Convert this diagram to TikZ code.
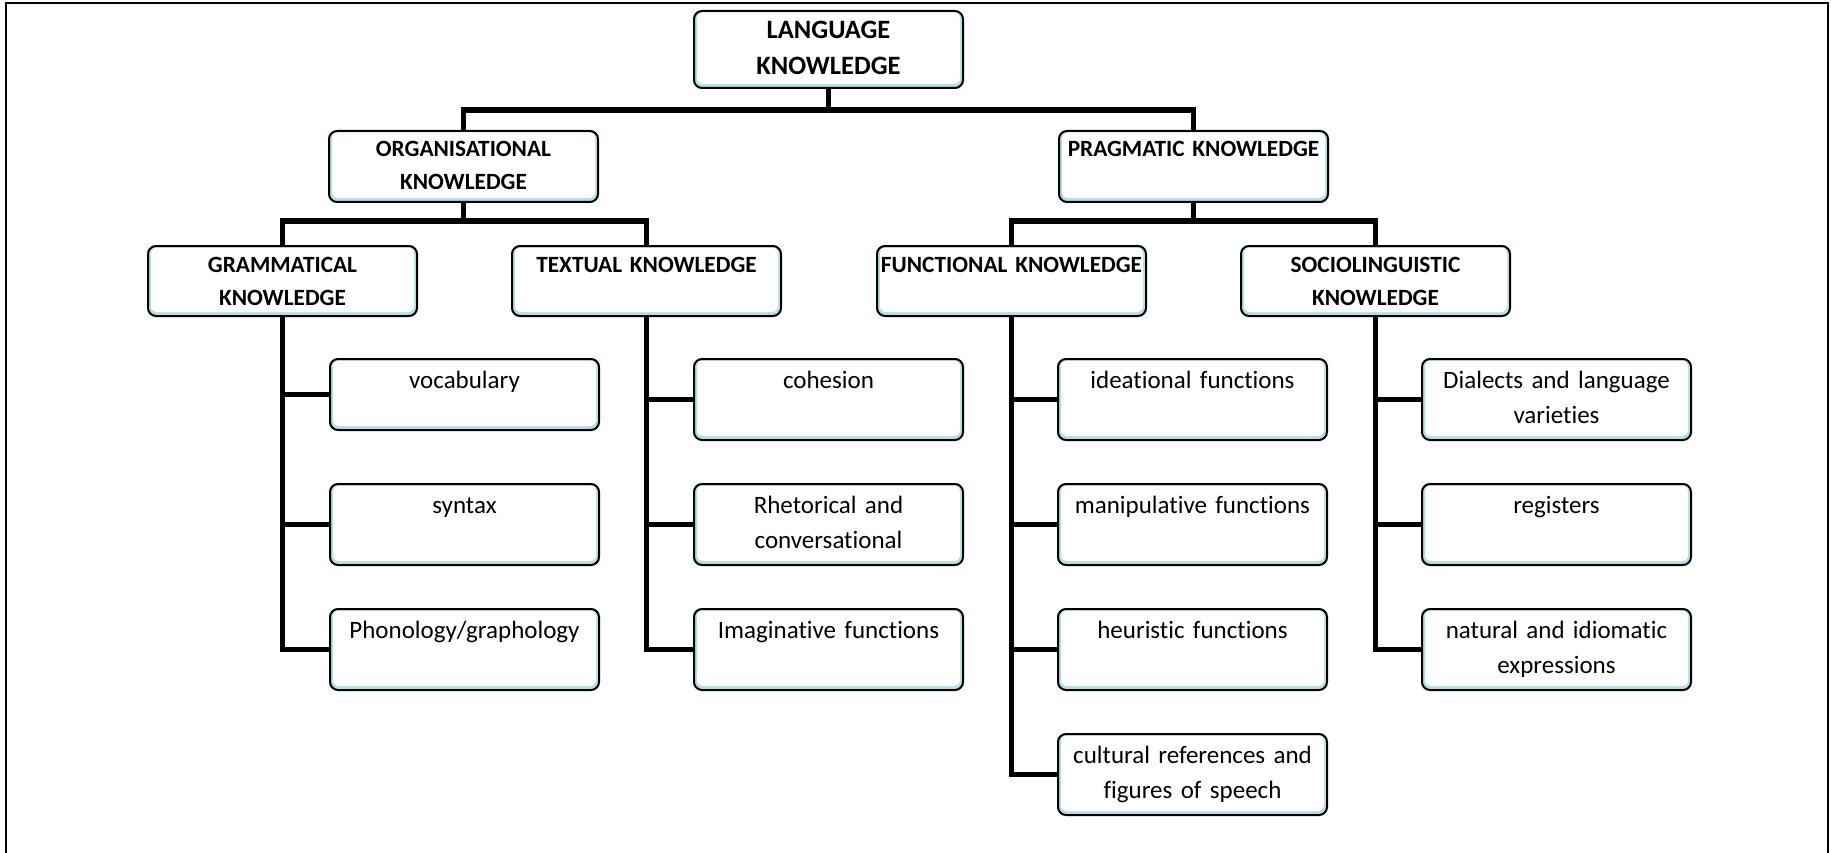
\documentclass[tikz,border=0pt]{standalone}
\usepackage{fontspec}
\setmainfont[Ligatures=NoCommon]{Carlito}
\definecolor{boxblue}{RGB}{183,221,228}
\tikzset{
  x=1pt, y=1pt,
  kbox/.style={draw=black, line width=2pt, rounded corners=8pt, fill=boxblue,
    inner sep=0pt, anchor=north west, minimum width=269pt,
    path picture={\fill[white, rounded corners=6pt]
      ([shift={(3pt,4pt)}]path picture bounding box.south west) rectangle
      ([shift={(-3pt,-1.5pt)}]path picture bounding box.north east);}},
  leafbox/.style={kbox, minimum height=81pt},
  headbox/.style={kbox, minimum height=71pt},
  leaftext/.style={anchor=base, align=center, text width=265pt, inner sep=0pt,
    font=\fontsize{25}{35}\selectfont},
  headtext/.style={anchor=base, align=center, text width=265pt, inner sep=0pt,
    font=\bfseries\fontsize{23.3}{33}\selectfont},
  toptext/.style={anchor=base, align=center, text width=265pt, inner sep=0pt,
    font=\bfseries\fontsize{26.5}{36}\selectfont},
  link/.style={line width=5.5pt},
}
\begin{document}
\begin{tikzpicture}
\useasboundingbox (0,0) rectangle (1831,-853);
% page frame (open at the bottom)
\draw[line width=2.5pt] (6,-853) -- (6,-3) -- (1828,-3) -- (1828,-853);

% root
\node[kbox, minimum height=77pt] (lk) at (693,-10) {};
\node[toptext, yshift=-29pt] (lk-t) at (lk.north) {LANGUAGE\\KNOWLEDGE};

% second level
\node[headbox] (org) at (328,-130) {};
\node[headtext, yshift=-27pt] (org-t) at (org.north) {ORGANISATIONAL\\KNOWLEDGE};
\node[headbox] (prag) at (1058,-130) {};
\node[headtext, yshift=-27pt] (prag-t) at (prag.north) {PRAGMATIC KNOWLEDGE};

% third level
\node[headbox, minimum height=70pt] (gram) at (147,-245) {};
\node[headtext, yshift=-27pt] (gram-t) at (gram.north) {GRAMMATICAL\\KNOWLEDGE};
\node[headbox, minimum height=70pt] (text) at (511,-245) {};
\node[headtext, yshift=-27pt] (text-t) at (text.north) {TEXTUAL KNOWLEDGE};
\node[headbox, minimum height=70pt] (func) at (876,-245) {};
\node[headtext, yshift=-27pt] (func-t) at (func.north) {FUNCTIONAL KNOWLEDGE};
\node[headbox, minimum height=70pt] (soc) at (1240,-245) {};
\node[headtext, yshift=-27pt] (soc-t) at (soc.north) {SOCIOLINGUISTIC\\KNOWLEDGE};

% leaves: grammatical knowledge
\node[leafbox, minimum height=71pt] (voc) at (329,-358) {};
\node[leaftext, yshift=-30pt] (voc-t) at (voc.north) {vocabulary};
\node[leafbox] (syn) at (329,-483) {};
\node[leaftext, yshift=-30pt] (syn-t) at (syn.north) {syntax};
\node[leafbox] (pho) at (329,-608) {};
\node[leaftext, yshift=-30pt] (pho-t) at (pho.north) {Phonology/graphology};

% leaves: textual knowledge
\node[leafbox] (coh) at (693,-358) {};
\node[leaftext, yshift=-30pt] (coh-t) at (coh.north) {cohesion};
\node[leafbox] (rhe) at (693,-483) {};
\node[leaftext, yshift=-30pt] (rhe-t) at (rhe.north) {Rhetorical and\\conversational};
\node[leafbox] (ima) at (693,-608) {};
\node[leaftext, yshift=-30pt] (ima-t) at (ima.north) {Imaginative functions};

% leaves: functional knowledge
\node[leafbox] (ide) at (1057,-358) {};
\node[leaftext, yshift=-30pt] (ide-t) at (ide.north) {ideational functions};
\node[leafbox] (man) at (1057,-483) {};
\node[leaftext, yshift=-30pt] (man-t) at (man.north) {manipulative functions};
\node[leafbox] (heu) at (1057,-608) {};
\node[leaftext, yshift=-30pt] (heu-t) at (heu.north) {heuristic functions};
\node[leafbox] (cul) at (1057,-733) {};
\node[leaftext, yshift=-30pt] (cul-t) at (cul.north) {cultural references and\\figures of speech};

% leaves: sociolinguistic knowledge
\node[leafbox] (dia) at (1421,-358) {};
\node[leaftext, yshift=-30pt] (dia-t) at (dia.north) {Dialects and language\\varieties};
\node[leafbox] (reg) at (1421,-483) {};
\node[leaftext, yshift=-30pt] (reg-t) at (reg.north) {registers};
\node[leafbox] (nat) at (1421,-608) {};
\node[leaftext, yshift=-30pt] (nat-t) at (nat.north) {natural and idiomatic\\expressions};

% tree connectors
\coordinate (j1) at ([yshift=-21pt]lk.south);
\draw[link] (lk.south) -- (j1);
\draw[link] (org.north) |- (j1) -| (prag.north);

\coordinate (j2) at ([yshift=-18pt]org.south);
\draw[link] (org.south) -- (j2);
\draw[link] (gram.north) |- (j2) -| (text.north);

\coordinate (j3) at ([yshift=-18pt]prag.south);
\draw[link] (prag.south) -- (j3);
\draw[link] (func.north) |- (j3) -| (soc.north);

\foreach \leaf in {voc,syn,pho} \draw[link] (gram.south) |- (\leaf.west);
\foreach \leaf in {coh,rhe,ima} \draw[link] (text.south) |- (\leaf.west);
\foreach \leaf in {ide,man,heu,cul} \draw[link] (func.south) |- (\leaf.west);
\foreach \leaf in {dia,reg,nat} \draw[link] (soc.south) |- (\leaf.west);
\end{tikzpicture}
\end{document}
